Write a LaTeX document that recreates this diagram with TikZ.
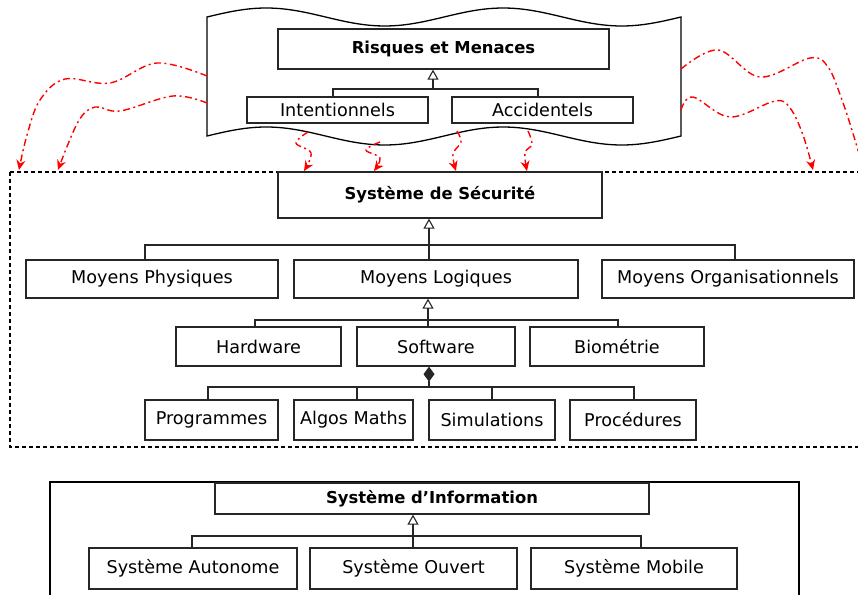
\documentclass[tikz,border=0pt]{standalone}
\usepackage{fontspec}
\setmainfont{DejaVu Sans}
\usetikzlibrary{arrows.meta}
\begin{document}
\begin{tikzpicture}[x=1pt,y=-1pt,
  box/.style={draw=black!85, line width=1.3pt, fill=white, inner sep=0pt, font=\fontsize{17.6}{20}\selectfont},
  boldbox/.style={box, font=\fontsize{16.4}{20}\selectfont\bfseries},
  link/.style={draw=black!85, line width=1.25pt},
  gen/.style={link, -{Triangle[open, width=11pt, length=10pt, line width=1.1pt]}},
  comp/.style={link, -{Diamond[width=11pt, length=15pt]}},
  threat/.style={draw=red, line width=1.4pt, dash pattern=on 7pt off 3.5pt on 2pt off 3.5pt, -{Stealth[length=10pt, width=9pt]}},
]
\useasboundingbox (0,0) rectangle (858,594);

% threat container (wavy)
\draw[line width=1.3pt, fill=white]
  plot[domain=207:681, samples=90] (\x,{17-9*sin(1.519*(\x-207))})
  -- plot[domain=681:207, samples=90] (\x,{136-9*sin(1.519*(\x-207))}) -- cycle;

% security container (dashed)
\draw[line width=1.1pt, dash pattern=on 4pt off 3pt] (10,172) rectangle (864,447);

% information system container
\draw[line width=1.2pt] (50,600) -- (50,482) -- (799,482) -- (799,600);

% nodes
\node[boldbox, minimum width=331, minimum height=40] (risk) at (443.5,49) {Risques et Menaces};
\node[box, minimum width=181, minimum height=26] (int) at (337.5,110) {Intentionnels};
\node[box, minimum width=181, minimum height=26] (acc) at (542.5,110) {Accidentels};

\node[boldbox, minimum width=324, minimum height=46] (secu) at (440,195) {Système de Sécurité};
\node[box, minimum width=252, minimum height=38] (mphys) at (152,279) {Moyens Physiques};
\node[box, minimum width=284, minimum height=38] (mlog) at (436,279) {Moyens Logiques};
\node[box, minimum width=252, minimum height=38] (morg) at (728,279) {Moyens Organisationnels};
\node[box, minimum width=165, minimum height=39] (hard) at (258.5,346.5) {Hardware};
\node[box, minimum width=158, minimum height=39] (soft) at (436,346.5) {Software};
\node[box, minimum width=174, minimum height=39] (bio) at (617,346.5) {Biométrie};
\node[box, minimum width=133, minimum height=40] (prog) at (211.5,420) {Programmes};
\node[box, minimum width=119, minimum height=40] (algo) at (353.5,420) {Algos Maths};
\node[box, minimum width=126, minimum height=40] (simu) at (492,420) {Simulations};
\node[box, minimum width=126, minimum height=40] (proc) at (633,420) {Procédures};

\node[boldbox, minimum width=434, minimum height=31] (sinfo) at (432,498.5) {Système d’Information};
\node[box, minimum width=208, minimum height=41] (sauto) at (193,568.5) {Système Autonome};
\node[box, minimum width=207, minimum height=41] (souv) at (413.5,568.5) {Système Ouvert};
\node[box, minimum width=206, minimum height=41] (smob) at (634,568.5) {Système Mobile};

% level 1
\coordinate (b1l) at (333,89); \coordinate (b1r) at (538,89); \coordinate (b1m) at (433,89);
\draw[link] (b1l |- int.north) -- (b1l) -- (b1r) -- (b1r |- acc.north);
\draw[gen] (b1m) -- (b1m |- risk.south);

% level 2
\coordinate (b2l) at (145,245); \coordinate (b2r) at (735,245); \coordinate (b2m) at (429,245);
\draw[link] (b2l |- mphys.north) -- (b2l) -- (b2r) -- (b2r |- morg.north);
\draw[link] (b2m |- mlog.north) -- (b2m);
\draw[gen] (b2m) -- (b2m |- secu.south);

% level 3
\coordinate (b3l) at (255,320); \coordinate (b3r) at (618,320); \coordinate (b3m) at (428,320);
\draw[link] (b3l |- hard.north) -- (b3l) -- (b3r) -- (b3r |- bio.north);
\draw[link] (b3m |- soft.north) -- (b3m);
\draw[gen] (b3m) -- (b3m |- mlog.south);

% level 4 (composition)
\coordinate (b4l) at (208,387); \coordinate (b4a) at (357,387); \coordinate (b4s) at (492,387);
\coordinate (b4r) at (634,387); \coordinate (b4m) at (429,387);
\draw[link] (b4l |- prog.north) -- (b4l) -- (b4r) -- (b4r |- proc.north);
\draw[link] (b4a) -- (b4a |- algo.north);
\draw[link] (b4s) -- (b4s |- simu.north);
\draw[comp] (b4m) -- (b4m |- soft.south);

% level 5
\coordinate (b5l) at (192,536); \coordinate (b5r) at (641,536); \coordinate (b5m) at (413,536);
\draw[link] (b5l |- sauto.north) -- (b5l) -- (b5r) -- (b5r |- smob.north);
\draw[link] (b5m |- souv.north) -- (b5m);
\draw[gen] (b5m) -- (b5m |- sinfo.south);

% threat arrows
\coordinate (tl1) at (207,76);  \coordinate (el1) at (19,170);
\coordinate (tl2) at (207,103); \coordinate (el2) at (58,170);
\coordinate (tr1) at (681,69);  \coordinate (er1) at (866,178);
\coordinate (tr2) at (681,110); \coordinate (er2) at (813,170);
\draw[threat] plot[smooth, tension=0.6] coordinates {(tl1) (157,63) (110,83) (65,79) (40,100) (27,135) (el1)};
\draw[threat] plot[smooth, tension=0.6] coordinates {(tl2) (173,96) (120,111) (95,107) (78,122) (el2)};
\draw[threat] plot[smooth, tension=0.6] coordinates {(tr1) (718,50) (760,77) (810,58) (828,67) (842,100) (855,140) (er1)};
\draw[threat] plot[smooth, tension=0.6] coordinates {(tr2) (693,97) (730,117) (775,101) (790,108) (803,135) (er2)};

\coordinate (ts1) at (308,132); \coordinate (ts2) at (380,142);
\coordinate (ts3) at (457,131); \coordinate (ts4) at (528,131);
\coordinate (es1) at (304,171); \coordinate (es2) at (374,171);
\coordinate (es3) at (456,171); \coordinate (es4) at (527,171);
\draw[threat] plot[smooth, tension=0.6] coordinates {(ts1) (296,143) (311,153) (es1)};
\draw[threat] plot[smooth, tension=0.6] coordinates {(ts2) (366,150) (380,158) (es2)};
\draw[threat] plot[smooth, tension=0.6] coordinates {(ts3) (461,142) (453,154) (es3)};
\draw[threat] plot[smooth, tension=0.6] coordinates {(ts4) (532,144) (525,153) (es4)};
\end{tikzpicture}
\end{document}
